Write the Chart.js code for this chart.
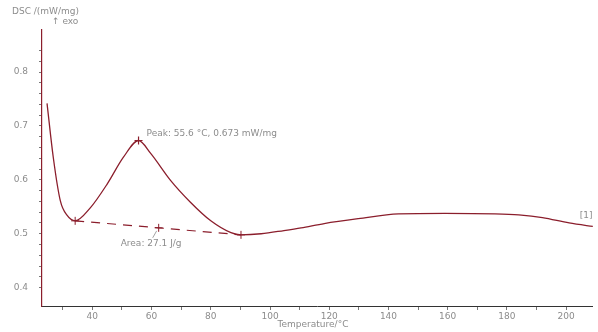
<!DOCTYPE html>
<html>
<head>
<meta charset="utf-8">
<script src="https://cdn.jsdelivr.net/npm/chart.js@4"></script>
<style>
  html, body { margin: 0; padding: 0; background: #fff; }
  #wrap { width: 598px; height: 332px; }
</style>
</head>
<body>
<div id="wrap"><canvas id="dscChart"></canvas></div>
<script>
// DSC curve
const temps = [24.7, 26.8, 29.2, 31.5, 34.2, 39.3, 45.1, 50.5, 55.6, 59.7, 66.4, 73.2, 80, 86.8, 90.2, 97, 104.7, 110.5, 118.3, 129.8, 143.4, 159, 175.9, 184, 192, 201, 209.8];
const heatFlow = [0.742, 0.642, 0.561, 0.534, 0.524, 0.548, 0.593, 0.642, 0.673, 0.649, 0.599, 0.558, 0.524, 0.502, 0.498, 0.5, 0.506, 0.511, 0.519, 0.528, 0.537, 0.538, 0.537, 0.535, 0.53, 0.52, 0.513];

// integration baseline + markers
const baseTemps = [34.2, 62.4, 90.2];
const baseFlow = [0.524, 0.511, 0.498];
const peakTemp = [55.6];
const peakFlow = [0.673];

const peakLabel = "Peak: 55.6 °C, 0.673 mW/mg";
const areaLabel = "Area: 27.1 J/g";
const curveLabel = "[1]";

const xTitle = "Temperature/°C";
const yTitle = ["DSC /(mW/mg)", "↑ exo"];

const curveColor = "#8b1e2c";
const textColor = "#8c8c8c";

const textPlugin = {
  id: "dscText",
  afterDraw(chart) {
    const ctx = chart.ctx;
    const xs = chart.scales.x, ys = chart.scales.y;
    ctx.save();
    ctx.fillStyle = textColor;
    ctx.font = "9px 'DejaVu Sans'";
    ctx.textBaseline = "middle";
    // y title at top left
    ctx.textAlign = "left";
    ctx.fillText(yTitle[0], 12, 12);
    ctx.fillText(yTitle[1], 52, 22);
    // peak label
    ctx.fillText(peakLabel, xs.getPixelForValue(peakTemp[0]) + 8, ys.getPixelForValue(peakFlow[0]) - 7);
    // area label with pointer
    const mx = xs.getPixelForValue(baseTemps[1]), my = ys.getPixelForValue(baseFlow[1]);
    ctx.fillText(areaLabel, mx - 38, my + 16);
    ctx.strokeStyle = textColor;
    ctx.lineWidth = 0.8;
    ctx.beginPath();
    ctx.moveTo(mx - 2, my + 3);
    ctx.lineTo(mx - 6, my + 10);
    ctx.stroke();
    // curve label at the right end
    ctx.textAlign = "center";
    ctx.fillText(curveLabel, xs.getPixelForValue(temps[temps.length - 1]) - 9, ys.getPixelForValue(heatFlow[heatFlow.length - 1]) - 11);
    // x title
    ctx.fillText(xTitle, 313, 325);
    ctx.restore();
  }
};

new Chart(document.getElementById("dscChart"), {
  type: "line",
  data: {
    datasets: [
      {
        data: temps.map((t, i) => ({ x: t, y: heatFlow[i] })),
        borderColor: curveColor,
        borderWidth: 1.3,
        pointRadius: 0,
        tension: 0.35,
        cubicInterpolationMode: "monotone",
        fill: false,
      },
      {
        data: baseTemps.map((t, i) => ({ x: t, y: baseFlow[i] })),
        borderColor: curveColor,
        borderWidth: 1.2,
        borderDash: [9, 7],
        pointStyle: "cross",
        pointRadius: 4,
        pointBorderColor: curveColor,
        pointBorderWidth: 1,
        tension: 0,
        fill: false,
      },
      {
        data: peakTemp.map((t, i) => ({ x: t, y: peakFlow[i] })),
        showLine: false,
        pointStyle: "cross",
        pointRadius: 4,
        pointBorderColor: curveColor,
        pointBorderWidth: 1.2,
      },
    ],
  },
  options: {
    responsive: true,
    maintainAspectRatio: false,
    animation: false,
    layout: { padding: { top: 30, right: 0, left: 0, bottom: 0 } },
    plugins: { legend: { display: false }, tooltip: { enabled: false } },
    scales: {
      x: {
        type: "linear",
        min: 23,
        max: 209,
        afterFit: (s) => { s.height = 26; },
        afterBuildTicks: (s) => { s.ticks = s.ticks.filter((t) => t.value % 10 === 0); },
        border: { color: "#333", width: 1 },
        grid: { drawOnChartArea: false, drawTicks: true, tickLength: 4, color: "#777" },
        ticks: {
          stepSize: 10,
          autoSkip: false,
          maxRotation: 0,
          padding: 1,
          color: textColor,
          font: { family: "DejaVu Sans", size: 9 },
          callback: (v) => (v % 20 === 0 ? v : ""),
        },
      },
      y: {
        min: 0.366,
        max: 0.878,
        afterFit: (s) => { s.width = 42; },
        afterBuildTicks: (s) => {
          s.ticks = s.ticks.filter((t) => Math.abs(Math.round(t.value * 50) - t.value * 50) < 1e-6);
        },
        border: { color: curveColor, width: 1.2 },
        grid: { drawOnChartArea: false, drawTicks: true, tickLength: 3, color: "#777" },
        ticks: {
          stepSize: 0.02,
          autoSkip: false,
          padding: 11,
          color: textColor,
          font: { family: "DejaVu Sans", size: 9 },
          callback: (v) => {
            const r = Math.round(v * 10);
            return Math.abs(v * 10 - r) < 1e-6 ? (r / 10).toFixed(1) : "";
          },
        },
      },
    },
  },
  plugins: [textPlugin],
});
</script>
</body>
</html>
